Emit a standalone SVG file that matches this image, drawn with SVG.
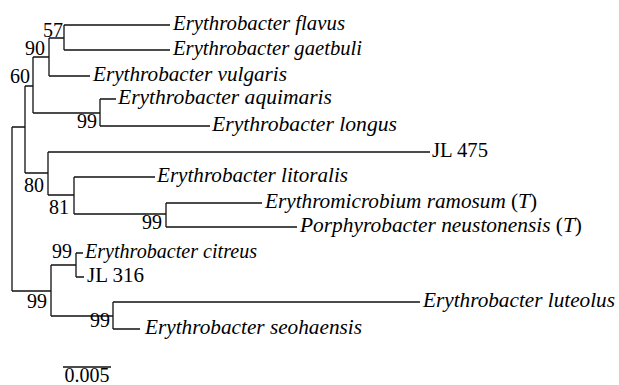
<svg xmlns="http://www.w3.org/2000/svg" width="619" height="385" viewBox="0 0 619 385" font-family="'Liberation Serif', 'Times New Roman', Times, 'DejaVu Serif', serif">
<style>
text{font-family:'Liberation Serif','Times New Roman',Times,'DejaVu Serif',serif;font-size:20px;fill:#000}
.sp{font-style:italic}
.up{font-style:normal}
.bs{text-anchor:end}
#connectors path{fill:none;stroke:#111;stroke-width:1.3}
</style>
<rect width="619" height="385" fill="#fff"/>
<g id="connectors">
<path d="M12,127V291"/>
<path d="M12,127H25M25,86V173"/>
<path d="M25,86H33M33,57V113"/>
<path d="M33,57H49M49,38V76"/>
<path d="M49,38H64M64,25V50"/>
<path d="M64,25H170M64,50H170M49,76H90"/>
<path d="M33,113H100M100,99V126M100,99H116M100,126H210"/>
<path d="M25,173H48M48,152V195M48,152H430"/>
<path d="M48,195H74M74,177V214M74,177H155"/>
<path d="M74,214H166M166,203V227M166,203H262M166,227H297"/>
<path d="M12,291H51M51,265V316"/>
<path d="M51,265H76M76,253V277M76,253H83M76,277H84"/>
<path d="M51,316H113M113,302V329M113,302H420M113,329H140"/>
<path d="M63,367H111"/>
</g>
<g id="n57"><text class="bs" x="63" y="37">57</text></g>
<g id="n90"><text class="bs" x="45" y="55">90</text></g>
<g id="n60"><text class="bs" x="30" y="83">60</text></g>
<g id="n99a"><text class="bs" x="97" y="128">99</text></g>
<g id="n80"><text class="bs" x="44" y="192">80</text></g>
<g id="n81"><text class="bs" x="69" y="214">81</text></g>
<g id="n99b"><text class="bs" x="162" y="229">99</text></g>
<g id="n99c"><text class="bs" x="72" y="258">99</text></g>
<g id="n99root"><text class="bs" x="47" y="308">99</text></g>
<g id="n99d"><text class="bs" x="110" y="327">99</text></g>
<g id="flavus"><text class="sp" x="173" y="30" textLength="172" lengthAdjust="spacingAndGlyphs">Erythrobacter flavus</text></g>
<g id="gaetbuli"><text class="sp" x="173" y="55" textLength="189" lengthAdjust="spacingAndGlyphs">Erythrobacter gaetbuli</text></g>
<g id="vulgaris"><text class="sp" x="93" y="81" textLength="194" lengthAdjust="spacingAndGlyphs">Erythrobacter vulgaris</text></g>
<g id="aquimaris"><text class="sp" x="118" y="104" textLength="214" lengthAdjust="spacingAndGlyphs">Erythrobacter aquimaris</text></g>
<g id="longus"><text class="sp" x="212" y="131" textLength="185" lengthAdjust="spacingAndGlyphs">Erythrobacter longus</text></g>
<g id="jl475"><text x="432" y="157" textLength="56" lengthAdjust="spacingAndGlyphs">JL 475</text></g>
<g id="litoralis"><text class="sp" x="157" y="182" textLength="191" lengthAdjust="spacingAndGlyphs">Erythrobacter litoralis</text></g>
<g id="ramosum"><text class="sp" x="265" y="208" textLength="272" lengthAdjust="spacingAndGlyphs">Erythromicrobium ramosum <tspan class="up">(</tspan>T<tspan class="up">)</tspan></text></g>
<g id="neustonensis"><text class="sp" x="300" y="232" textLength="282" lengthAdjust="spacingAndGlyphs">Porphyrobacter neustonensis <tspan class="up">(</tspan>T<tspan class="up">)</tspan></text></g>
<g id="citreus"><text class="sp" x="85" y="258" textLength="172" lengthAdjust="spacingAndGlyphs">Erythrobacter citreus</text></g>
<g id="jl316"><text x="87" y="282" textLength="57" lengthAdjust="spacingAndGlyphs">JL 316</text></g>
<g id="luteolus"><text class="sp" x="423" y="307" textLength="192" lengthAdjust="spacingAndGlyphs">Erythrobacter luteolus</text></g>
<g id="seohaensis"><text class="sp" x="145" y="334" textLength="217" lengthAdjust="spacingAndGlyphs">Erythrobacter seohaensis</text></g>
<g id="scale"><text x="87" y="382" text-anchor="middle">0.005</text></g>
</svg>
